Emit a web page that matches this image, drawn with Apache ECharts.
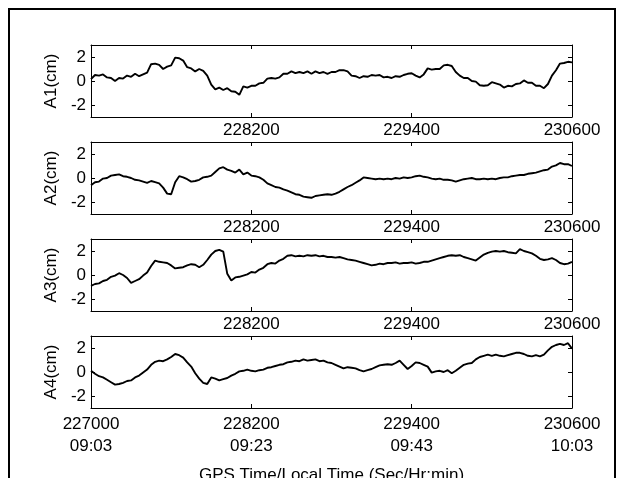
<!DOCTYPE html>
<html>
<head>
<meta charset="utf-8">
<script src="https://cdn.jsdelivr.net/npm/echarts@6/dist/echarts.min.js"></script>
<style>
  html, body { margin: 0; padding: 0; background: #fff; }
  #chart { width: 626px; height: 478px; }
</style>
</head>
<body>
<div id="chart"></div>
<script>
// GPS time (s), one sample every 30 s
const times = [
  227000,227030,227060,227090,227120,227150,227180,227210,227240,227270,
  227300,227330,227360,227390,227420,227450,227480,227510,227540,227570,
  227600,227630,227660,227690,227720,227750,227780,227810,227840,227870,
  227900,227930,227960,227990,228020,228050,228080,228110,228140,228170,
  228200,228230,228260,228290,228320,228350,228380,228410,228440,228470,
  228500,228530,228560,228590,228620,228650,228680,228710,228740,228770,
  228800,228830,228860,228890,228920,228950,228980,229010,229040,229070,
  229100,229130,229160,229190,229220,229250,229280,229310,229340,229370,
  229400,229430,229460,229490,229520,229550,229580,229610,229640,229670,
  229700,229730,229760,229790,229820,229850,229880,229910,229940,229970,
  230000,230030,230060,230090,230120,230150,230180,230210,230240,230270,
  230300,230330,230360,230390,230420,230450,230480,230510,230540,230570,
  230600
]

// displacement (cm) per antenna
const a1 = [
  0.15,0.5,0.45,0.55,0.3,0.25,0.0,0.25,0.2,0.45,
  0.35,0.6,0.4,0.55,0.7,1.4,1.45,1.35,1.0,1.2,
  1.3,1.95,1.9,1.7,1.15,1.05,0.8,1.0,0.85,0.45,
  -0.3,-0.7,-0.55,-0.75,-0.6,-0.85,-0.9,-1.15,-0.45,-0.55,
  -0.4,-0.4,-0.2,-0.15,0.2,0.25,0.2,0.3,0.6,0.6,
  0.8,0.65,0.75,0.65,0.8,0.6,0.8,0.65,0.75,0.6,
  0.75,0.75,0.9,0.9,0.8,0.45,0.4,0.25,0.4,0.35,
  0.5,0.45,0.5,0.3,0.35,0.25,0.4,0.35,0.5,0.6,
  0.65,0.45,0.3,0.55,1.05,0.95,1.0,1.0,1.3,1.35,
  1.25,0.75,0.45,0.25,0.25,0.0,-0.05,-0.35,-0.4,-0.35,
  -0.1,-0.2,-0.3,-0.55,-0.4,-0.45,-0.25,-0.2,0.05,-0.15,
  -0.15,-0.4,-0.4,-0.6,-0.25,0.45,0.9,1.45,1.5,1.6,
  1.55
]
const a2 = [
  -0.6,-0.35,-0.3,-0.05,0.0,0.2,0.25,0.3,0.15,0.1,
  0.0,-0.15,-0.2,-0.3,-0.4,-0.25,-0.35,-0.45,-0.8,-1.3,
  -1.35,-0.35,0.15,0.05,-0.1,-0.3,-0.25,-0.15,0.05,0.1,
  0.2,0.5,0.8,0.9,0.7,0.6,0.45,0.7,0.3,0.45,
  0.2,0.15,0.05,-0.15,-0.45,-0.6,-0.75,-0.8,-0.95,-1.05,
  -1.2,-1.35,-1.4,-1.55,-1.6,-1.65,-1.5,-1.45,-1.4,-1.35,
  -1.4,-1.3,-1.15,-0.95,-0.75,-0.6,-0.4,-0.2,0.05,0.0,
  -0.05,-0.1,-0.05,-0.1,-0.05,-0.1,0.0,-0.05,0.05,0.0,
  0.05,0.15,0.2,0.1,0.05,-0.05,-0.1,-0.05,-0.15,-0.15,
  -0.2,-0.3,-0.2,-0.1,-0.05,0.0,-0.1,-0.1,-0.05,-0.1,
  -0.05,-0.1,0.0,0.05,0.05,0.15,0.2,0.25,0.25,0.35,
  0.4,0.45,0.55,0.65,0.7,0.95,1.05,1.25,1.15,1.15,
  1.0
]
const a3 = [
  -0.9,-0.75,-0.7,-0.5,-0.4,-0.15,-0.05,0.15,0.0,-0.25,
  -0.65,-0.5,-0.35,-0.05,0.2,0.75,1.2,1.1,1.05,1.0,
  0.8,0.55,0.6,0.65,0.8,0.9,0.85,0.65,0.85,1.25,
  1.7,2.0,2.1,1.95,0.1,-0.45,-0.2,-0.15,-0.05,0.05,
  0.25,0.2,0.45,0.6,0.9,1.0,0.95,1.2,1.35,1.6,
  1.65,1.55,1.6,1.55,1.65,1.6,1.65,1.55,1.6,1.5,
  1.5,1.45,1.5,1.4,1.3,1.25,1.2,1.1,1.0,0.9,
  0.8,0.85,0.95,0.9,1.0,1.0,1.05,0.95,1.0,1.0,
  1.05,0.95,1.0,1.1,1.1,1.2,1.3,1.4,1.5,1.6,
  1.65,1.6,1.65,1.5,1.4,1.3,1.2,1.45,1.7,1.85,
  1.95,2.0,1.95,2.0,1.9,1.85,1.8,2.15,2.0,1.9,
  1.8,1.6,1.35,1.25,1.3,1.4,1.25,1.0,0.9,0.95,
  1.1
]
const a4 = [
  0.1,-0.15,-0.35,-0.45,-0.65,-0.85,-1.05,-1.0,-0.9,-0.75,
  -0.7,-0.45,-0.3,-0.05,0.2,0.6,0.85,0.95,0.9,1.05,
  1.25,1.5,1.4,1.2,0.8,0.45,-0.1,-0.55,-0.9,-1.0,
  -0.45,-0.55,-0.7,-0.6,-0.5,-0.3,-0.15,0.05,0.1,0.2,
  0.1,0.05,0.15,0.2,0.35,0.4,0.5,0.6,0.65,0.8,
  0.85,0.95,0.9,1.05,0.95,1.0,1.05,0.9,0.95,0.8,
  0.75,0.6,0.45,0.3,0.4,0.35,0.3,0.15,0.05,0.15,
  0.25,0.4,0.55,0.6,0.65,0.6,0.75,0.95,0.6,0.25,
  0.5,0.8,0.75,0.6,0.45,-0.05,0.05,0.1,0.0,0.15,
  -0.1,0.1,0.35,0.6,0.7,0.75,1.05,1.25,1.35,1.45,
  1.35,1.45,1.35,1.3,1.4,1.5,1.6,1.6,1.5,1.35,
  1.3,1.4,1.3,1.45,1.8,2.1,2.25,2.35,2.25,2.4,
  1.95
]

const panelNames = ['A1(cm)', 'A2(cm)', 'A3(cm)', 'A4(cm)']
const xTicks = [227000, 228200, 229400, 230600]
const clockTicks = ['09:03', '09:23', '09:43', '10:03']
const yTicks = [-2, 0, 2]
const xTitle = 'GPS Time/Local Time (Sec/Hr:min)'

const series = [a1, a2, a3, a4]
const font = 'Liberation Sans, Arial, sans-serif'
const tops = [45, 142, 239, 336]
const plotH = 72

let grids = []
let xAxes = []
let yAxes = []
let lines = []

series.forEach(function (vals, i) {
  let last = i === series.length - 1
  grids.push({left: 91, right: 54, top: tops[i], height: plotH, outerBoundsMode: 'none', containLabel: false})

  // bottom axis with labels
  let xLabel = {
    show: true, customValues: last ? xTicks : xTicks.slice(1),
    color: '#000', fontFamily: font, fontSize: 17, margin: 5,
    formatter: function (v) {
      if (!last) return String(v)
      return v + '\n' + clockTicks[xTicks.indexOf(v)]
    }
  }
  if (last) xLabel.lineHeight = 22
  xAxes.push({
    type: 'value', gridIndex: i, min: xTicks[0], max: xTicks[xTicks.length - 1],
    position: 'bottom',
    axisLine: {show: true, onZero: false, lineStyle: {color: '#000', width: 1}},
    axisTick: {show: true, inside: true, length: 4, customValues: xTicks, lineStyle: {color: '#000'}},
    axisLabel: xLabel,
    splitLine: {show: false},
    name: last ? xTitle : '',
    nameLocation: 'middle', nameGap: 59,
    nameTextStyle: {color: '#000', fontFamily: font, fontSize: 17}
  })
  // mirrored top axis (ticks only)
  xAxes.push({
    type: 'value', gridIndex: i, min: xTicks[0], max: xTicks[xTicks.length - 1],
    position: 'top',
    axisLine: {show: true, onZero: false, lineStyle: {color: '#000', width: 1}},
    axisTick: {show: true, inside: true, length: 4, customValues: xTicks, lineStyle: {color: '#000'}},
    axisLabel: {show: false},
    splitLine: {show: false}
  })

  yAxes.push({
    type: 'value', gridIndex: i, min: -3, max: 3, position: 'left',
    axisLine: {show: true, onZero: false, lineStyle: {color: '#000', width: 1}},
    axisTick: {show: true, inside: true, length: 4, customValues: yTicks, lineStyle: {color: '#000'}},
    axisLabel: {show: true, customValues: yTicks, color: '#000', fontFamily: font, fontSize: 17, margin: 5},
    splitLine: {show: false},
    name: panelNames[i], nameLocation: 'middle', nameGap: 27, nameRotate: 90,
    nameTextStyle: {color: '#000', fontFamily: font, fontSize: 17}
  })
  yAxes.push({
    type: 'value', gridIndex: i, min: -3, max: 3, position: 'right',
    axisLine: {show: true, onZero: false, lineStyle: {color: '#000', width: 1}},
    axisTick: {show: true, inside: true, length: 4, customValues: yTicks, lineStyle: {color: '#000'}},
    axisLabel: {show: false},
    splitLine: {show: false}
  })

  lines.push({
    type: 'line',
    xAxisIndex: i * 2, yAxisIndex: i * 2,
    data: times.map(function (t, k) { return [t, vals[k]] }),
    showSymbol: false,
    lineStyle: {color: '#000', width: 1.9},
    silent: true
  })
})

let chart = echarts.init(document.getElementById('chart'), null, {renderer: 'canvas'})
chart.setOption({
  animation: false,
  backgroundColor: '#fff',
  grid: grids,
  xAxis: xAxes,
  yAxis: yAxes,
  series: lines,
  graphic: [{
    type: 'rect',
    shape: {x: 9, y: 9, width: 606, height: 520},
    style: {fill: 'none', stroke: '#000', lineWidth: 2},
    silent: true
  }]
})
</script>
</body>
</html>
